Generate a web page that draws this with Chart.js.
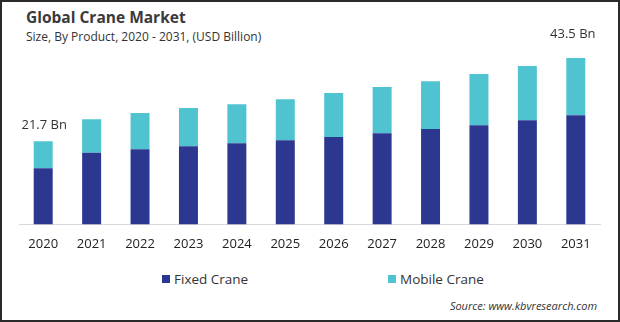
<!DOCTYPE html>
<html>
<head>
<meta charset="utf-8">
<script src="https://cdn.jsdelivr.net/npm/chart.js@4.4.1/dist/chart.umd.min.js"></script>
<style>
  html, body { margin: 0; padding: 0; background: #fff; }
  #frame {
    position: relative;
    width: 620px;
    height: 322px;
    box-sizing: border-box;
    border: 2px solid #2a2a2a;
    font-family: "Open Sans", sans-serif;
    color: #333;
    overflow: hidden;
  }
  #title { position: absolute; left: 24px; top: 4px; font-size: 15.5px; font-weight: 700; color: #3a3a3a; }
  #subtitle { position: absolute; left: 24px; top: 26px; font-size: 12px; color: #333; }
  #chartBox { position: absolute; left: -2px; top: -2px; width: 620px; height: 264px; }
  #legend { position: absolute; left: 160px; top: 268px; display: flex; font-size: 13.5px; }
  .item { display: flex; align-items: center; width: 226px; }
  .swatch { width: 8px; height: 8px; margin-right: 4px; }
  #source { position: absolute; right: 21px; top: 296px; font-size: 11px; font-style: italic; color: #333; }
</style>
</head>
<body>
<div id="frame">
  <div id="title">Global Crane Market</div>
  <div id="subtitle">Size, By Product, 2020 - 2031, (USD Billion)</div>
  <div id="chartBox"><canvas id="chart"></canvas></div>
  <div id="legend"></div>
  <div id="source">Source: www.kbvresearch.com</div>
</div>
<script>
const years = ['2020', '2021', '2022', '2023', '2024', '2025', '2026', '2027', '2028', '2029', '2030', '2031'];
const fixedCrane = [14.7, 18.7, 19.6, 20.4, 21.2, 22.0, 22.8, 23.8, 24.9, 25.9, 27.2, 28.5];
const mobileCrane = [7.0, 8.8, 9.5, 10.0, 10.2, 10.7, 11.5, 12.1, 12.5, 13.4, 14.2, 15.0];
const seriesNames = ['Fixed Crane', 'Mobile Crane'];
const seriesColors = ['#2c388f', '#4fc3cf'];

// totals for the first and last year, printed above the stacks
const endLabels = {
  plugin: {
    id: 'endLabels',
    afterDatasetsDraw(chart) {
      const { ctx } = chart;
      const top = chart.getDatasetMeta(1).data;
      const last = years.length - 1;
      const lift = { 0: 16, [last]: 24 };
      ctx.save();
      ctx.font = '13px "Open Sans", sans-serif';
      ctx.fillStyle = '#333';
      ctx.textAlign = 'center';
      ctx.textBaseline = 'middle';
      [0, last].forEach(i => {
        const total = fixedCrane[i] + mobileCrane[i];
        ctx.fillText(total.toFixed(1) + ' Bn', top[i].x + (i === 0 ? 1 : -3), top[i].y - lift[i]);
      });
      ctx.restore();
    }
  }
};

const chart = new Chart(document.getElementById('chart'), {
  type: 'bar',
  data: {
    labels: years,
    datasets: [
      { label: seriesNames[0], data: fixedCrane, backgroundColor: seriesColors[0] },
      { label: seriesNames[1], data: mobileCrane, backgroundColor: seriesColors[1] }
    ]
  },
  options: {
    responsive: true,
    maintainAspectRatio: false,
    animation: false,
    layout: { padding: { left: 19, right: 20, top: 33, bottom: 0 } },
    datasets: { bar: { categoryPercentage: 0.8, barPercentage: 0.49 } },
    plugins: { legend: { display: false }, tooltip: { enabled: false } },
    scales: {
      x: {
        stacked: true,
        grid: { display: false, drawTicks: false },
        border: { color: '#d9d9d9', width: 1 },
        ticks: { color: '#222', font: { family: 'Open Sans', size: 13 }, padding: 12 }
      },
      y: {
        stacked: true,
        display: false,
        min: 0,
        max: 50
      }
    }
  },
  plugins: [endLabels.plugin]
});

// legend built from the chart's own datasets
const legend = document.getElementById('legend');
chart.data.datasets.forEach(ds => {
  const item = document.createElement('div');
  item.className = 'item';
  const sw = document.createElement('span');
  sw.className = 'swatch';
  sw.style.background = ds.backgroundColor;
  item.appendChild(sw);
  item.appendChild(document.createTextNode(ds.label));
  legend.appendChild(item);
});
</script>
</body>
</html>
